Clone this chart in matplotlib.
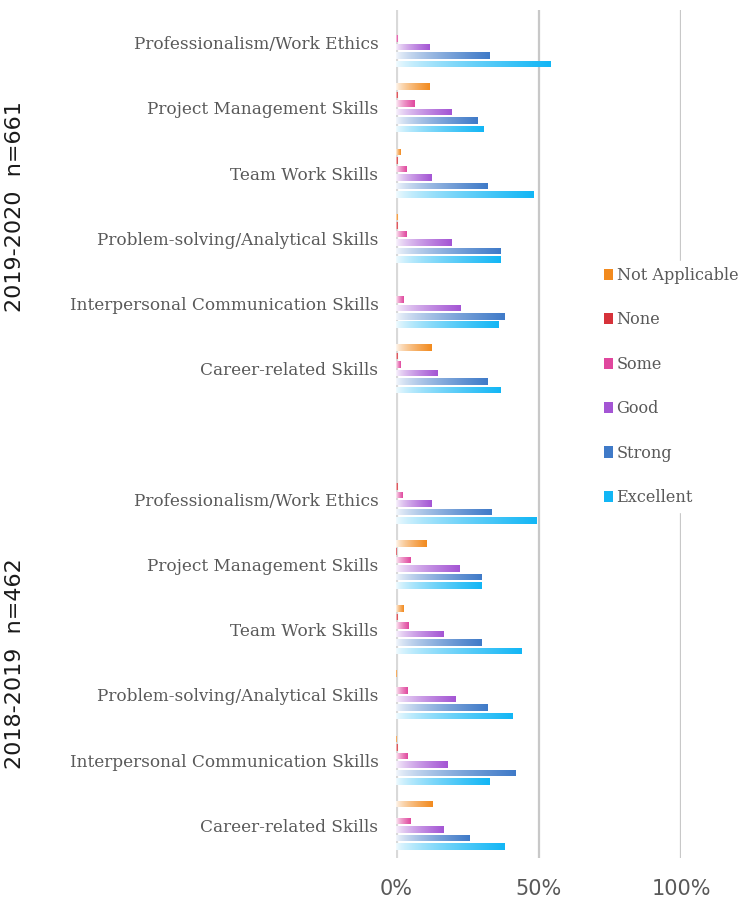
import numpy as np
import matplotlib
matplotlib.use("Agg")
import matplotlib.pyplot as plt
from matplotlib.patches import Patch
from matplotlib.colors import to_rgb

skills = ['Professionalism/Work Ethics', 'Project Management Skills', 'Team Work Skills',
          'Problem-solving/Analytical Skills', 'Interpersonal Communication Skills',
          'Career-related Skills']
groups = ['2019-2020  n=661', '2018-2019  n=462']
levels = ['Not Applicable', 'None', 'Some', 'Good', 'Strong', 'Excellent']
colores = ['#F28A1E', '#D6323A', '#E0479E', '#A455D4', '#3F7AC8', '#12B6F5']

# porcentajes por nivel, en el orden de skills
v_2020 = {
    'Not Applicable': [0.0, 11.8, 1.6, 0.5, 0.0, 12.5],
    'None':           [0.0, 0.5, 0.5, 0.5, 0.0, 0.5],
    'Some':           [0.5, 6.5, 3.7, 3.7, 2.6, 1.6],
    'Good':           [11.8, 19.6, 12.5, 19.6, 22.8, 14.7],
    'Strong':         [33.0, 28.8, 32.0, 36.9, 38.0, 32.0],
    'Excellent':      [54.2, 30.9, 48.2, 36.9, 35.9, 36.9],
}
v_2019 = {
    'Not Applicable': [0.0, 10.8, 2.6, 0.3, 0.3, 12.9],
    'None':           [0.5, 0.3, 0.5, 0.0, 0.5, 0.0],
    'Some':           [2.3, 5.1, 4.4, 4.1, 4.1, 5.1],
    'Good':           [12.5, 22.4, 16.8, 21.0, 18.2, 16.8],
    'Strong':         [33.7, 29.9, 29.9, 32.3, 41.9, 26.0],
    'Excellent':      [49.3, 29.9, 44.0, 40.8, 33.0, 38.0],
}

# 13 posiciones: 6 categorias, hueco, 6 categorias
etiquetas = skills + [''] + skills
n_cat = len(etiquetas)

fig = plt.figure(figsize=(7.5, 8.99), dpi=100)
ax = fig.add_axes([396.5 / 750, 1 - 858 / 899, (681 - 396.5) / 750, 848 / 899])

paso = 0.13
alto = 0.10


def degradado(color):
    c = np.array(to_rgb(color))
    s = np.linspace(0, 1, 256)
    t = 0.05 + 0.95 * s ** 0.7
    img = (1 - t)[:, None] * np.ones(3) + t[:, None] * c
    return img[None, :, :]


for j, (nivel, col) in enumerate(zip(levels, colores)):
    vals = np.array(v_2020[nivel] + [0.0] + v_2019[nivel]) / 100.0
    y = np.arange(n_cat) + (j - 2.5) * paso
    barras = ax.barh(y, vals, height=alto, color='none', zorder=3)
    for rect, v in zip(barras, vals):
        if v <= 0:
            continue
        x0, y0 = rect.get_x(), rect.get_y()
        im = ax.imshow(degradado(col), extent=[x0, x0 + rect.get_width(), y0, y0 + rect.get_height()],
                       aspect='auto', zorder=3, interpolation='bilinear')
        im.set_clip_path(rect)

ax.set_xlim(0, 1.0)
ax.set_ylim(n_cat - 0.5, -0.5)

ax.axvline(0, color='#D9D9D9', lw=3, zorder=2)
for g in [0.5, 1.0]:
    ax.axvline(g, color='#C8C8C8', lw=1.6, zorder=1)

for s in ax.spines.values():
    s.set_visible(False)

ax.set_yticks(np.arange(n_cat))
ax.set_yticklabels(etiquetas, family='DejaVu Serif', fontsize=12.2, color='#595959')
ax.tick_params(axis='y', length=0, pad=13)

ax.set_xticks([0, 0.5, 1.0])
ax.set_xticklabels(['0%', '50%', '100%'], fontsize=15, color='#595959')
ax.tick_params(axis='x', length=0, pad=15)

fig.text(15 / 750, 1 - 206.7 / 899, groups[0], rotation=90, ha='center', va='center',
         fontsize=16, color='#1A1A1A')
fig.text(15 / 750, 1 - 663.8 / 899, groups[1], rotation=90, ha='center', va='center',
         fontsize=16, color='#1A1A1A')

handles = [Patch(facecolor=c, edgecolor='none', label=l) for l, c in zip(levels, colores)]
leg = fig.legend(handles=handles, loc='center left', bbox_to_anchor=(598 / 750, 1 - 386.5 / 899),
                 frameon=True, facecolor='white', edgecolor='white', framealpha=1,
                 handlelength=0.5, handleheight=0.7, handletextpad=0.25, labelspacing=1.7,
                 borderpad=0.4, borderaxespad=0, prop={'family': 'DejaVu Serif', 'size': 11.6})
for t in leg.get_texts():
    t.set_color('#595959')

plt.savefig('out.png', dpi=100)
